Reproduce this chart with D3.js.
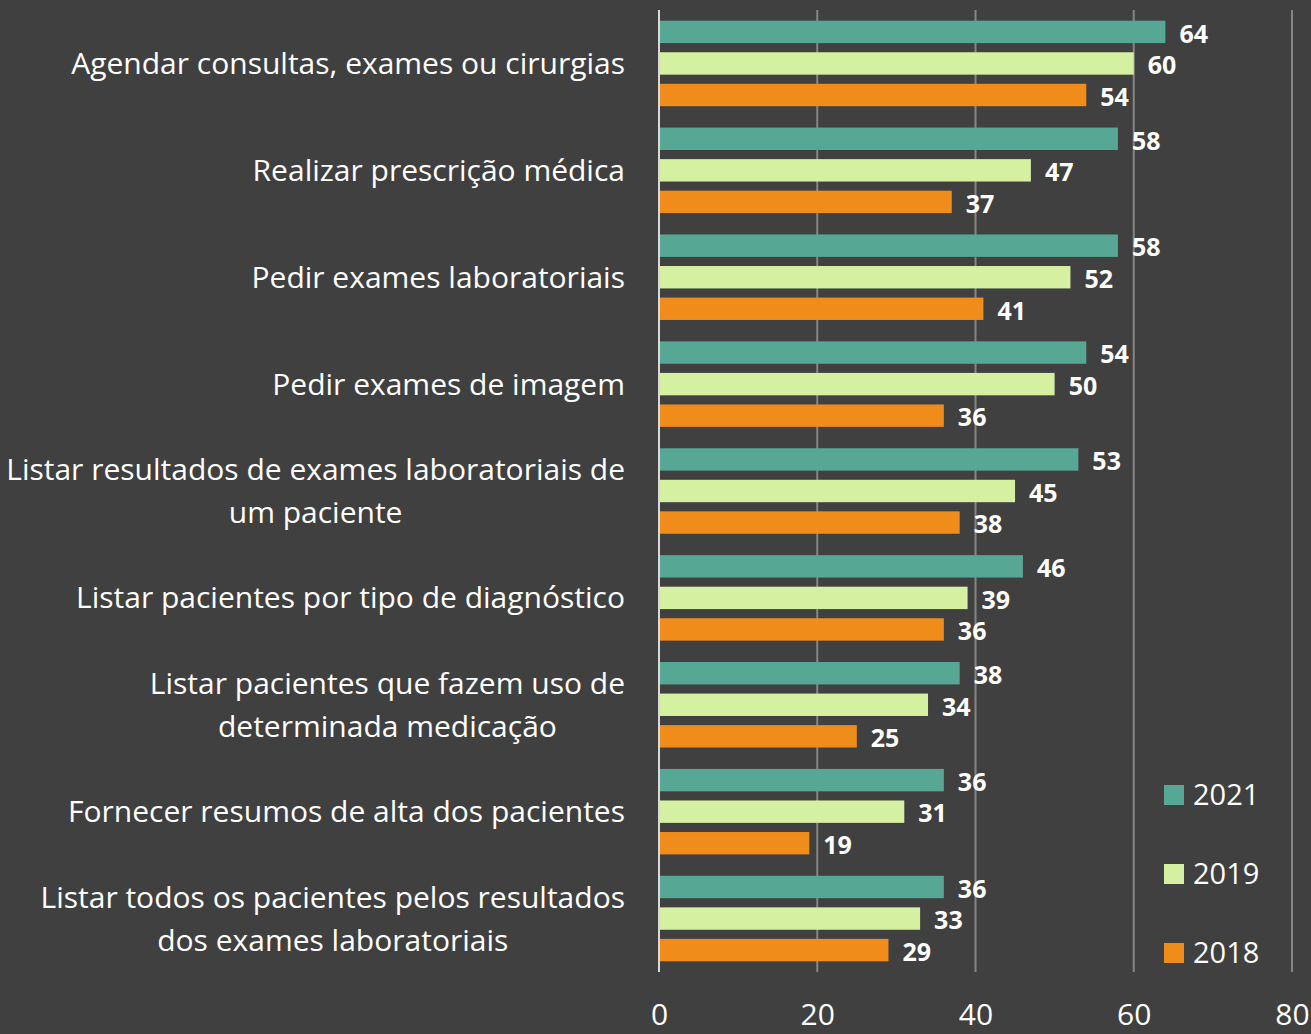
<!DOCTYPE html>
<html>
<head>
<meta charset="utf-8">
<script src="https://cdn.jsdelivr.net/npm/d3@7"></script>
<style>
  body { margin: 0; background: #404040; }
  svg { display: block; font-family: "Open Sans", "Noto Sans", sans-serif; }
</style>
</head>
<body>
<div id="chart"></div>
<script>
var ctx = {
    w: 1311,
    h: 1034
};

// categories (top to bottom); "\n" marks a line break
var categories = [
    "Agendar consultas, exames ou cirurgias",
    "Realizar prescrição médica",
    "Pedir exames laboratoriais",
    "Pedir exames de imagem",
    "Listar resultados de exames laboratoriais de\num paciente",
    "Listar pacientes por tipo de diagnóstico",
    "Listar pacientes que fazem uso de\ndeterminada medicação",
    "Fornecer resumos de alta dos pacientes",
    "Listar todos os pacientes pelos resultados\ndos exames laboratoriais"
];
var seriesNames = ["2021", "2019", "2018"];
var values2021 = [64, 58, 58, 54, 53, 46, 38, 36, 36];
var values2019 = [60, 47, 52, 50, 45, 39, 34, 31, 33];
var values2018 = [54, 37, 41, 36, 38, 36, 25, 19, 29];
var colors = ["#56a794", "#d5f0a0", "#ef8c1a"];
var xTicks = [0, 20, 40, 60, 80];

var createChart = function () {
    var svg = d3.select("#chart").append("svg")
        .attr("width", ctx.w)
        .attr("height", ctx.h);

    var margin = { left: 659, right: 19, top: 10, bottom: 62 };
    var plotW = ctx.w - margin.left - margin.right;
    var plotH = ctx.h - margin.top - margin.bottom;

    var g = svg.append("g")
        .attr("transform", "translate(" + margin.left + "," + margin.top + ")");

    var x = d3.scaleLinear().domain([0, 80]).range([0, plotW]);
    var y = d3.scaleBand().domain(categories).range([0, plotH]).paddingInner(0.2).paddingOuter(0.1);
    var y1 = d3.scaleBand().domain(seriesNames).range([0, y.bandwidth()]).paddingInner(0.29);

    // gridlines
    g.selectAll("line.grid")
        .data(xTicks)
        .enter().append("line")
        .attr("class", "grid")
        .attr("x1", function (d) { return x(d); })
        .attr("x2", function (d) { return x(d); })
        .attr("y1", 0)
        .attr("y2", plotH)
        .attr("stroke", function (d) { return d == 0 ? "#d9d9d9" : "#858585"; })
        .attr("stroke-width", 2);

    // x axis labels
    var xAxis = d3.axisBottom(x).tickValues(xTicks).tickSize(0).tickPadding(32);
    var ax = g.append("g")
        .attr("transform", "translate(0," + plotH + ")")
        .call(xAxis);
    ax.select(".domain").remove();
    ax.selectAll("text")
        .attr("fill", "#ffffff")
        .style("font-size", "30px")
        .style("font-family", "'Open Sans', 'Noto Sans', sans-serif");

    var rows = categories.map(function (c, i) {
        return {
            cat: c,
            vals: [
                { s: "2021", v: values2021[i], c: colors[0] },
                { s: "2019", v: values2019[i], c: colors[1] },
                { s: "2018", v: values2018[i], c: colors[2] }
            ]
        };
    });

    var groups = g.selectAll("g.cat")
        .data(rows)
        .enter().append("g")
        .attr("class", "cat")
        .attr("transform", function (d) { return "translate(0," + y(d.cat) + ")"; });

    groups.selectAll("rect")
        .data(function (d) { return d.vals; })
        .enter().append("rect")
        .attr("x", 1)
        .attr("y", function (d) { return y1(d.s); })
        .attr("width", function (d) { return x(d.v) - 1; })
        .attr("height", y1.bandwidth())
        .attr("fill", function (d) { return d.c; });

    groups.selectAll("text.val")
        .data(function (d) { return d.vals; })
        .enter().append("text")
        .attr("class", "val")
        .attr("x", function (d) { return x(d.v) + 14; })
        .attr("y", function (d) { return y1(d.s) + y1.bandwidth() / 2 + 2; })
        .attr("dy", "0.35em")
        .attr("fill", "#ffffff")
        .style("font-size", "25px")
        .style("font-weight", "bold")
        .text(function (d) { return d.v; });

    // category labels
    var labels = svg.append("g").selectAll("text")
        .data(categories)
        .enter().append("text")
        .attr("text-anchor", "middle")
        .attr("fill", "#ffffff")
        .style("font-size", "30px")
        .attr("transform", function (d) {
            return "translate(0," + (margin.top + y(d) + y.bandwidth() / 2) + ")";
        });

    labels.each(function (d) {
        var lines = d.split("\n");
        var t = d3.select(this);
        var lh = 43;
        var start = -(lines.length - 1) * lh / 2;
        // measure the widest line to right-align the block, centre each line
        var tmp = [];
        lines.forEach(function (ln, k) {
            tmp.push(t.append("tspan")
                .attr("y", start + k * lh)
                .attr("dy", "0.35em")
                .text(ln));
        });
        var maxW = d3.max(tmp, function (s) { return s.node().getComputedTextLength(); });
        var cx = 625 - maxW / 2;
        tmp.forEach(function (s) { s.attr("x", cx); });
    });

    // legend
    var legendY = [795, 874, 953];
    var legend = svg.append("g").selectAll("g")
        .data(seriesNames)
        .enter().append("g")
        .attr("transform", function (d, i) { return "translate(1164," + legendY[i] + ")"; });
    legend.append("rect")
        .attr("x", 0)
        .attr("y", -10)
        .attr("width", 20)
        .attr("height", 20)
        .attr("fill", function (d, i) { return colors[i]; });
    legend.append("text")
        .attr("x", 29)
        .attr("dy", "0.35em")
        .attr("fill", "#ffffff")
        .style("font-size", "29px")
        .text(function (d) { return d; });
};

createChart();
</script>
</body>
</html>
